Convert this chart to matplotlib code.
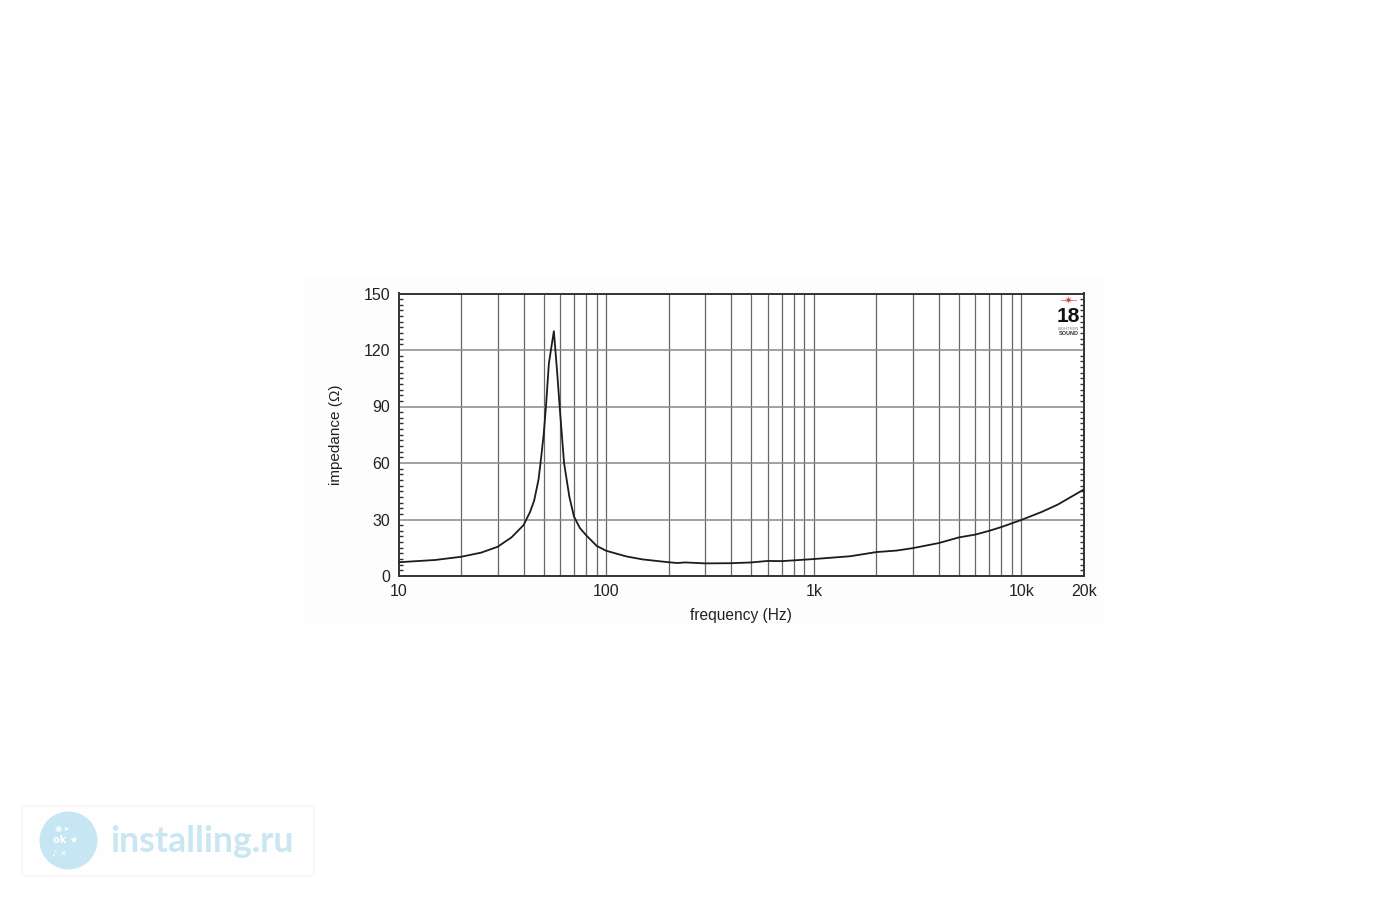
import matplotlib
matplotlib.use('Agg')
import matplotlib.pyplot as plt
from matplotlib.patches import Circle, FancyBboxPatch, Rectangle

plt.rcParams['font.family'] = ['Liberation Sans', 'DejaVu Sans']

# Impedance curve
freq = [10, 15, 20, 25, 30, 35, 40, 43, 45, 47.2, 48.3, 50, 51.3, 53, 56, 58, 59.7, 62.7, 66.5, 70, 74.8, 80, 90, 100,
        125, 150, 200, 220, 240, 300, 400, 500, 600, 700, 800, 1000, 1500, 2000, 2500,
        3000, 4000, 5000, 6000, 7000, 8000, 10000, 12500, 15000, 20000]
impedance = [7.3, 8.5, 10.2, 12.4, 15.5, 20.5, 27, 34, 40, 51, 60, 75, 90, 113, 130, 109, 90, 60, 42, 31.5, 25.4, 21.7, 16, 13.4,
             10.4, 8.8, 7.3, 6.9, 7.2, 6.7, 6.8, 7.2, 8.0, 7.9, 8.3, 9.0, 10.5, 12.7, 13.5,
             14.8, 17.5, 20.5, 22, 24, 26, 29.8, 34, 38, 46]

x_grid = [20, 30, 40, 50, 60, 70, 80, 90, 100, 200, 300, 400, 500, 600, 700, 800, 900,
          1000, 2000, 3000, 4000, 5000, 6000, 7000, 8000, 9000, 10000]
x_ticks = [10, 100, 1000, 10000, 20000]
x_labels = ['10', '100', '1k', '10k', '20k']
y_ticks = [0, 30, 60, 90, 120, 150]
y_minor = list(range(0, 151, 3))

fig = plt.figure(figsize=(14, 9), dpi=100, facecolor='white')

# faint panel behind the chart
fig.patches.append(Rectangle((305 / 1400, 1 - 625 / 900), 800 / 1400, 348 / 900,
                             transform=fig.transFigure, fc='#fdfdfd', ec='none', zorder=-1))

ax = fig.add_axes([398.5 / 1400, 1 - 576 / 900, 685.5 / 1400, 282.5 / 900])
ax.set_xscale('log')
ax.set_xlim(10, 20000)
ax.set_ylim(0, 150)
ax.set_facecolor('white')

for f in x_grid:
    ax.axvline(f, color='#666666', lw=0.9, zorder=1)
for v in y_ticks[1:-1]:
    ax.axhline(v, color='#888888', lw=1.1, zorder=1)

ax.plot(freq, impedance, color='#1c1c1c', lw=1.3, zorder=3)

ax.set_xticks(x_ticks)
ax.set_xticklabels(x_labels)
ax.minorticks_off()
ax.set_yticks(y_ticks)
ax.set_yticks(y_minor, minor=True)
ax.tick_params(axis='x', which='both', length=0, labelsize=11.5, colors='#222222', pad=6)
ax.tick_params(axis='y', which='major', length=0, labelsize=11.5, labelcolor='#222222', pad=6)
ax.tick_params(axis='y', which='minor', direction='in', length=3, width=1, color='#333333',
               left=True, right=True)
for s in ax.spines.values():
    s.set_linewidth(1.4)
    s.set_color('#333333')

ax.set_xlabel('frequency (Hz)', fontsize=11.2, color='#222222', labelpad=6)
fig.text(336 / 1400, 1 - 435 / 900, 'impedance (Ω)', rotation=90, fontsize=11,
         color='#222222', ha='center', va='center')

# 18 Sound logo, top right of the plot
fig.patches.append(Rectangle((1060.5 / 1400, 1 - 300.7 / 900), 16 / 1400, 1 / 900,
                             transform=fig.transFigure, fc='#e08a90', ec='none', zorder=2))
fig.text(1068.5 / 1400, 1 - 300.5 / 900, '✴', color='#c9303a', fontsize=8, ha='center', va='center',
         family=['DejaVu Sans'])
fig.text(1068.5 / 1400, 1 - 316 / 900, '18', color='#111111', fontsize=15, ha='center', va='center',
         fontweight='bold')
fig.text(1068.5 / 1400, 1 - 329 / 900, 'EIGHTEEN', color='#777777', fontsize=3, ha='center', va='center')
fig.text(1068.5 / 1400, 1 - 333.5 / 900, 'SOUND', color='#333333', fontsize=4, ha='center', va='center',
         fontweight='bold')

# installing.ru watermark
fig.patches.append(FancyBboxPatch((22 / 1400, 1 - 876 / 900), 292 / 1400, 70 / 900,
                                  boxstyle='round,pad=0,rounding_size=0.003',
                                  transform=fig.transFigure, fc='#fefefe', ec='#f6f6f6', lw=1, zorder=1))
fig.patches.append(Circle((68.5, 900 - 840.5), 29, transform=None, fc='#c6e6f3', ec='none', zorder=2))
fig.text(62 / 1400, 1 - 828 / 900, '◉ ▸', color='white', fontsize=6, ha='center', va='center',
         family=['DejaVu Sans'])
fig.text(66 / 1400, 1 - 840 / 900, 'ok ★', color='white', fontsize=7, ha='center', va='center',
         fontweight='bold', family=['DejaVu Sans'])
fig.text(60 / 1400, 1 - 853 / 900, '♪ ✕', color='white', fontsize=6, ha='center', va='center',
         family=['DejaVu Sans'])
fig.text(110 / 1400, 1 - 842 / 900, 'installing.ru', color='#c9e6f2', fontsize=25.7, ha='left', va='center',
         fontweight='bold', family=['Lato', 'DejaVu Sans'])

fig.savefig('out.png', dpi=100)
